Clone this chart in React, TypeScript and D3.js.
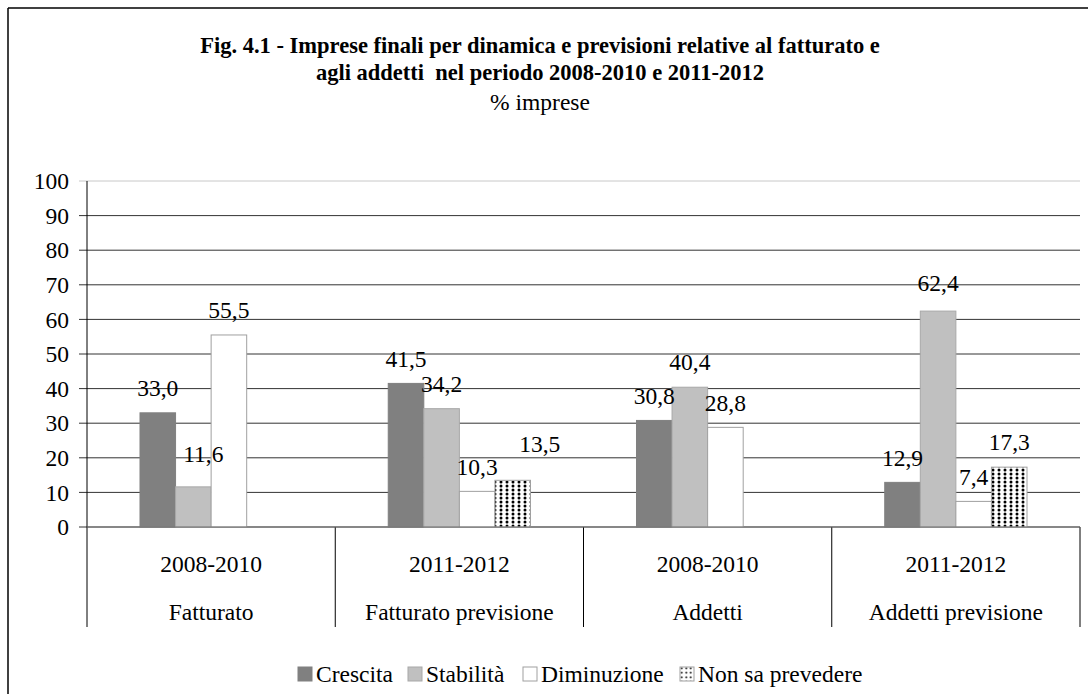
import React from "react";
import * as d3 from "d3";

const categories = ["Fatturato", "Fatturato previsione", "Addetti", "Addetti previsione"];
const periods = ["2008-2010", "2011-2012", "2008-2010", "2011-2012"];
const seriesNames = ["Crescita", "Stabilità", "Diminuzione", "Non sa prevedere"];
const crescita = [33.0, 41.5, 30.8, 12.9];
const stabilita = [11.6, 34.2, 40.4, 62.4];
const diminuzione = [55.5, 10.3, 28.8, 7.4];
const nonSaPrevedere = [null, 13.5, null, 17.3];
const yTicks = [0, 10, 20, 30, 40, 50, 60, 70, 80, 90, 100];

const W = 1088;
const H = 694;
const left = 87;
const right = 1080;
const top = 181;
const bottom = 527;

export default function App() {
  const seriesValues = [crescita, stabilita, diminuzione, nonSaPrevedere];
  const x0 = d3.scaleBand<number>().domain(categories.map((_, i) => i)).range([left, right]).paddingInner(0).paddingOuter(0);
  const x1 = d3.scaleBand<number>().domain([0, 1, 2, 3]).range([0, x0.bandwidth()]).paddingOuter(1.49).paddingInner(0);
  const y = d3.scaleLinear().domain([0, 100]).range([bottom, top]);

  const fills = ["#808080", "#c0c0c0", "#ffffff", "url(#dots)"];
  const strokes = ["#808080", "#a8a8a8", "#a0a0a0", "#a0a0a0"];
  const fmt = (v: number) => v.toFixed(1).replace(".", ",");
  // label nudges (dx, dy) keyed as "series-category"
  const nudge: Record<string, [number, number]> = { "1-0": [10, -8], "3-1": [27, -12], "1-3": [0, -3] };

  const serif = "'Liberation Serif', 'Times New Roman', serif";
  const legendX = [298, 408, 523, 680];
  const fs = 23.5;

  return (
    <svg width={W} height={H} style={{ position: "absolute", left: 0, top: 0, background: "#fff" }} fontFamily={serif}>
      <defs>
        <pattern id="dots" width="6" height="4" patternUnits="userSpaceOnUse">
          <rect width="6" height="4" fill="#fff" />
          <circle cx="3" cy="2" r="1.5" fill="#000" />
        </pattern>
        <pattern id="dotsL" width="4.5" height="4.5" patternUnits="userSpaceOnUse">
          <rect width="4.5" height="4.5" fill="#fff" />
          <circle cx="2.25" cy="2.25" r="1" fill="#000" />
        </pattern>
      </defs>
      <line x1={8} y1={8} x2={W} y2={8} stroke="#000" strokeWidth={1.5} />
      <line x1={8} y1={8} x2={8} y2={H} stroke="#000" strokeWidth={1.5} />

      <text x={540} y={45} dy="0.35em" textAnchor="middle" fontWeight="bold" fontSize={22.5}>
        Fig. 4.1 - Imprese finali per dinamica e previsioni relative al fatturato e
      </text>
      <text x={540} y={72} dy="0.35em" textAnchor="middle" fontWeight="bold" fontSize={22.5} style={{ whiteSpace: "pre" }}>
        agli addetti  nel periodo 2008-2010 e 2011-2012
      </text>
      <text x={540} y={102} dy="0.35em" textAnchor="middle" fontSize={fs}>% imprese</text>

      {yTicks.map((t) => (
        <g key={t}>
          <line x1={left - 8} x2={right} y1={y(t)} y2={y(t)} stroke={t === 100 ? "#c8c8c8" : "#333"} strokeWidth={1} />
          <text x={69} y={y(t)} dy="0.35em" textAnchor="end" fontSize={fs}>{t}</text>
        </g>
      ))}
      <line x1={left} x2={left} y1={top} y2={627} stroke="#000" />
      {[0, 1, 2, 3].map((i) => (
        <line key={i} x1={x0(i)! + x0.bandwidth()} x2={x0(i)! + x0.bandwidth()} y1={bottom} y2={627} stroke="#000" />
      ))}

      {seriesValues.map((vals, s) =>
        vals.map((v, c) =>
          v == null ? null : (
            <rect key={`${s}-${c}`} x={x0(c)! + x1(s)!} y={y(v)} width={x1.bandwidth()} height={bottom - y(v)}
              fill={fills[s]} stroke={strokes[s]} strokeWidth={1} />
          )
        )
      )}
      <line x1={left} x2={right} y1={bottom} y2={bottom} stroke="#777" strokeWidth={1.2} />

      {seriesValues.map((vals, s) =>
        vals.map((v, c) => {
          if (v == null) return null;
          const n = nudge[`${s}-${c}`] || [0, 0];
          return (
            <text key={`l${s}-${c}`} x={x0(c)! + x1(s)! + x1.bandwidth() / 2 + n[0]} y={y(v) - 25 + n[1]} dy="0.35em"
              textAnchor="middle" fontSize={fs}>{fmt(v)}</text>
          );
        })
      )}

      {categories.map((c, i) => (
        <g key={c + i}>
          <text x={x0(i)! + x0.bandwidth() / 2} y={564} dy="0.35em" textAnchor="middle" fontSize={fs}>{periods[i]}</text>
          <text x={x0(i)! + x0.bandwidth() / 2} y={612} dy="0.35em" textAnchor="middle" fontSize={fs}>{c}</text>
        </g>
      ))}

      {seriesNames.map((n, i) => (
        <g key={n}>
          <rect x={legendX[i]} y={667} width={14} height={14} fill={i === 3 ? "url(#dotsL)" : fills[i]} stroke={strokes[i]} />
          <text x={legendX[i] + 18} y={674} dy="0.35em" fontSize={fs}>{n}</text>
        </g>
      ))}
    </svg>
  );
}
